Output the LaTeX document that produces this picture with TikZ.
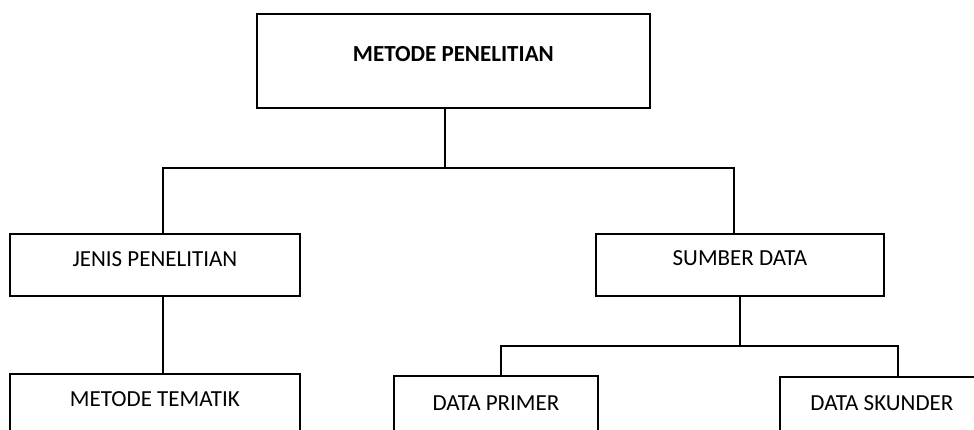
\documentclass[tikz,border=0pt]{standalone}
\usepackage{fontspec}
\setmainfont{Carlito}
\usepackage{tikz}

\begin{document}
\begin{tikzpicture}[x=1pt, y=-1pt, line width=1.8pt, font=\fontsize{23}{27}\selectfont, kotak/.style = {draw, rectangle, anchor=north west, inner sep=0pt, text depth=30pt}]
\clip (0,0) rectangle (974,430);
\node[kotak, minimum width=393pt, text height=47.5pt, text depth=46.5pt] (judul) at (256,13) {\textbf{METODE PENELITIAN}};
\node[kotak, minimum width=290pt, text height=32.5pt, text depth=29.5pt] (jenis) at (9,233) {JENIS PENELITIAN};
\node[kotak, minimum width=288pt, text height=31.5pt, text depth=30.5pt] (sumber) at (595,233) {SUMBER DATA};
\node[kotak, minimum width=290pt, text height=32.5pt] (tematik) at (9,373) {METODE TEMATIK};
\node[kotak, minimum width=204pt, text height=34.5pt] (primer) at (393,375) {DATA PRIMER};
\node[kotak, minimum width=204pt, text height=33.5pt] (skunder) at (779,376) {DATA SKUNDER};
\coordinate (cabang1) at (445,168);
\coordinate (cabang2) at (sumber.south |- 0,346);
\draw (judul.south -| cabang1) -- (cabang1);
\draw ([xshift=8pt]jenis.north) |- (cabang1) -| ([xshift=-6pt]sumber.north);
\draw ([xshift=8pt]jenis.south) -- ([xshift=8pt]tematik.north);
\draw (sumber.south) -- (cabang2);
\draw ([xshift=5pt]primer.north) |- (cabang2) -| ([xshift=16pt]skunder.north);
\end{tikzpicture}
\end{document}
